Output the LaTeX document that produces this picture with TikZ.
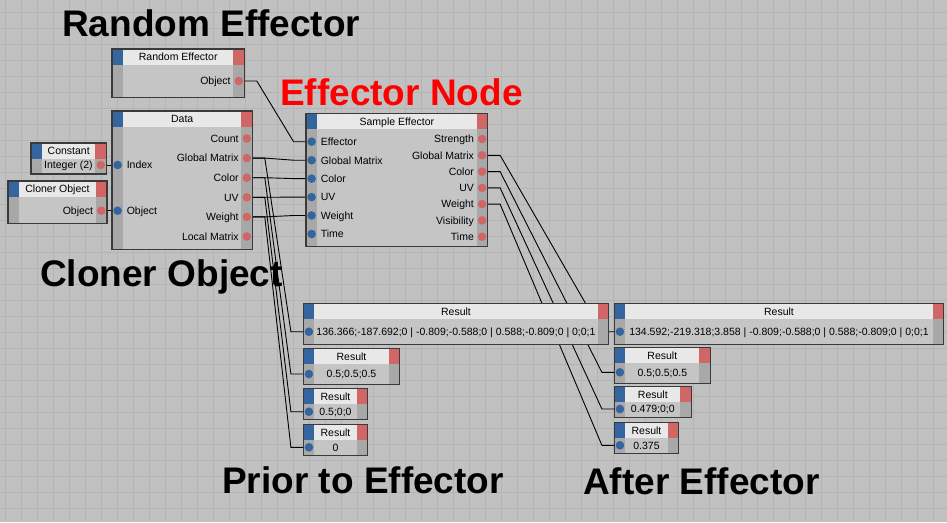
\documentclass[tikz,border=0pt]{standalone}
\usepackage{fontspec}
\setmainfont{Liberation Sans}
\usetikzlibrary{calc}

\definecolor{bg}{RGB}{193,193,193}
\definecolor{gridc}{RGB}{180,180,180}
\definecolor{xblue}{RGB}{52,101,158}
\definecolor{xred}{RGB}{208,102,102}
\definecolor{xhead}{RGB}{232,232,232}
\definecolor{xbody}{RGB}{197,197,197}
\definecolor{xstrip}{RGB}{168,168,168}
\definecolor{xline}{RGB}{58,58,58}

\pgfdeclarelayer{back}
\pgfdeclarelayer{wires}
\pgfsetlayers{back,wires,main}

\tikzset{
  xframe/.style={fill=xbody, inner sep=0pt, anchor=north west},
  inport/.style={circle, fill=xblue, minimum size=8.6pt, inner sep=0pt},
  outport/.style={circle, fill=xred, minimum size=8.6pt, inner sep=0pt},
  portlbl/.style={font=\fontsize{10.5}{12}\selectfont, inner sep=0pt},
  wire/.style={draw=black, line width=0.9pt},
  heading/.style={font=\fontsize{37}{40}\selectfont\bfseries, inner sep=0pt, anchor=base west}
}

\newcommand\xnode[6]{%
  \node[xframe, minimum width=#4pt, minimum height=#5pt] (#1) at (#2,#3) {};
  \fill[xstrip] (#1.north west) rectangle ($(#1.south west)+(11,0)$);
  \fill[xstrip] (#1.north east) rectangle ($(#1.south east)+(-11,0)$);
  \fill[xhead] (#1.north west) rectangle ($(#1.north east)+(0,15.7)$);
  \fill[xblue] (#1.north west) rectangle ++(11,15.7);
  \fill[xred] (#1.north east) rectangle ++(-11,15.7);
  \draw[xline, line width=1.3pt] (#1.north west) rectangle (#1.south east);
  \node[portlbl, anchor=base] at ($(#1.north)+(0,11.8)$) {#6};
}
\newcommand\inport[4]{%
  \node[inport] (#1) at ($(#2.north west)+(5.6,#3)$) {};
  \node[portlbl, anchor=base west] at ($(#1)+(9,3.8)$) {#4};
}
\newcommand\outport[4]{%
  \node[outport] (#1) at ($(#2.north east)+(-5.6,#3)$) {};
  \node[portlbl, anchor=base east] at ($(#1)+(-8,3.8)$) {#4};
}
\newcommand\result[7]{%
  \xnode{#1}{#2}{#3}{#4}{#5}{Result}
  \node[inport] (#1-in) at ($(#1.north west)+(5.6,#6)$) {};
  \node[portlbl, anchor=base] at ($(#1.north)+(0,#6+3.8)$) {#7};
}
\newcommand\wire[2]{\draw[wire] (#1.center) -- ++(18,0) -- ($(#2.center)+(-18,0)$) -- (#2.center);}

\begin{document}
\begin{tikzpicture}[x=1pt,y=-1pt]
\useasboundingbox (0,0) rectangle (947,522);
\begin{pgfonlayer}{back}
\fill[bg] (0,0) rectangle (947,522);
\foreach \gx in {5,21,...,947} \draw[gridc, line width=1pt] (\gx,0) -- (\gx,522);
\foreach \gy in {12,28,...,522} \draw[gridc, line width=1pt] (0,\gy) -- (947,\gy);
\end{pgfonlayer}

\xnode{ranef}{112}{49}{132}{48}{Random Effector}
\outport{ranef-obj}{ranef}{32}{Object}

\xnode{const}{31}{143}{75}{30.5}{Constant}
\outport{const-int}{const}{22}{Integer (2)}

\xnode{cloner}{8}{181}{98.5}{42}{Cloner Object}
\outport{cloner-obj}{cloner}{29.7}{Object}

\xnode{data}{112}{111}{140}{138.3}{Data}
\inport{data-index}{data}{54}{Index}
\inport{data-obj}{data}{99.7}{Object}
\outport{data-count}{data}{27.5}{Count}
\outport{data-gm}{data}{47.1}{Global Matrix}
\outport{data-color}{data}{66.7}{Color}
\outport{data-uv}{data}{86.3}{UV}
\outport{data-weight}{data}{105.9}{Weight}
\outport{data-lm}{data}{125.5}{Local Matrix}

\xnode{sample}{306}{113.3}{181.3}{132.7}{Sample Effector}
\inport{se-eff}{sample}{28.4}{Effector}
\inport{se-gm}{sample}{46.9}{Global Matrix}
\inport{se-color}{sample}{65.3}{Color}
\inport{se-uv}{sample}{83.8}{UV}
\inport{se-weight}{sample}{102.2}{Weight}
\inport{se-time}{sample}{120.7}{Time}
\outport{se-str}{sample}{25.7}{Strength}
\outport{se-ogm}{sample}{42}{Global Matrix}
\outport{se-ocolor}{sample}{58.3}{Color}
\outport{se-ouv}{sample}{74.5}{UV}
\outport{se-oweight}{sample}{90.8}{Weight}
\outport{se-vis}{sample}{107.1}{Visibility}
\outport{se-otime}{sample}{123.4}{Time}

\result{resA}{303.3}{303.3}{305}{40.7}{28.4}{136.366;-187.692;0 | -0.809;-0.588;0 | 0.588;-0.809;0 | 0;0;1}
\result{resB}{303.3}{348.3}{96}{36}{25.7}{0.5;0.5;0.5}
\result{resC}{303.3}{388.3}{64}{31}{23.4}{0.5;0;0}
\result{resD}{303.3}{424.3}{64}{30.7}{23}{0}

\result{resE}{614.3}{303.3}{329}{40.7}{28.4}{134.592;-219.318;3.858 | -0.809;-0.588;0 | 0.588;-0.809;0 | 0;0;1}
\result{resF}{614.3}{347.3}{95.7}{36}{25}{0.5;0.5;0.5}
\result{resG}{614.3}{386.7}{76.7}{30.7}{22.3}{0.479;0;0}
\result{resH}{614.3}{422.7}{64}{30.7}{22.6}{0.375}

\begin{pgfonlayer}{wires}
\wire{ranef-obj}{se-eff}
\wire{const-int}{data-index}
\wire{cloner-obj}{data-obj}
\wire{data-gm}{se-gm}
\wire{data-color}{se-color}
\wire{data-uv}{se-uv}
\wire{data-weight}{se-weight}
\wire{data-gm}{resA-in}
\wire{data-color}{resB-in}
\wire{data-uv}{resC-in}
\wire{data-weight}{resD-in}
\wire{se-ogm}{resE-in}
\wire{se-ocolor}{resF-in}
\wire{se-ouv}{resG-in}
\wire{se-oweight}{resH-in}
\end{pgfonlayer}

\node[heading] (h-random) at (62,36.7) {Random Effector};
\node[heading, text=red] (h-effector) at (280,105) {Effector Node};
\node[heading] (h-cloner) at (40,286.7) {Cloner Object};
\node[heading] (h-prior) at (222,493) {Prior to Effector};
\node[heading] (h-after) at (583,494) {After Effector};
\end{tikzpicture}
\end{document}
